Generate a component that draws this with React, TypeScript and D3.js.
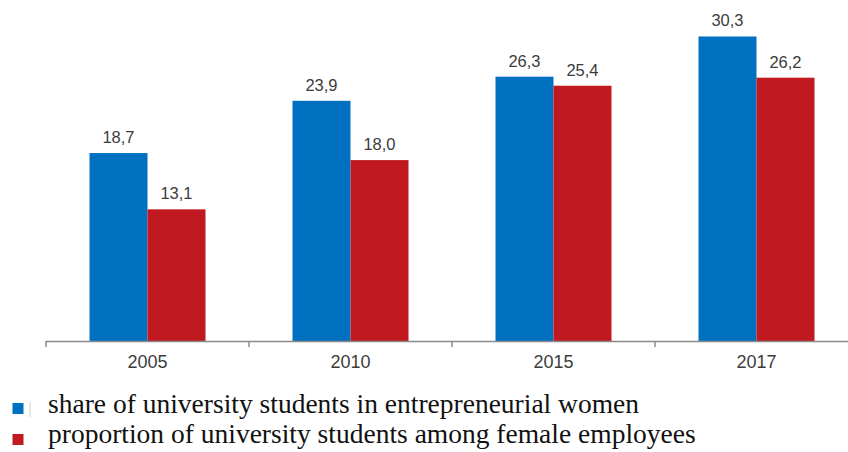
import React from "react";
import * as d3 from "d3";

const categories = ["2005", "2010", "2015", "2017"];
const seriesNames = [
  "share of university students in entrepreneurial women",
  "proportion of university students among female employees",
];
const entrepreneurial = [18.7, 23.9, 26.3, 30.3];
const employees = [13.1, 18.0, 25.4, 26.2];
const labels = [
  ["18,7", "23,9", "26,3", "30,3"],
  ["13,1", "18,0", "25,4", "26,2"],
];
const colors = ["#0070C0", "#C0191F"];

export default function App() {
  const W = 848, H = 452;
  const x = d3.scaleBand<string>().domain(categories).range([46, 858]).paddingInner(0).paddingOuter(0);
  const y = d3.scaleLinear().domain([0, 30]).range([341, 39.5]);
  const barW = 58;
  const series = [entrepreneurial, employees];
  const ticks = [...categories.map((c) => x(c)!), 858];
  const sans = "'Liberation Sans', Arial, sans-serif";
  const serif = "'Liberation Serif', 'Times New Roman', Times, serif";
  return (
    <div style={{ position: "absolute", left: 0, top: 0, width: W, height: H }}>
      <svg width={W} height={H} style={{ display: "block", background: "#fff" }}>
        {series.map((vals, si) =>
          vals.map((v, i) => {
            const cx = x(categories[i])! + x.bandwidth() / 2;
            const bx = si === 0 ? cx - barW : cx;
            return (
              <g key={`${si}-${i}`}>
                <rect x={bx} y={y(v)} width={barW} height={y(0) - y(v)} fill={colors[si]} />
                <text x={bx + barW / 2} y={y(v) - 10} textAnchor="middle" style={{ fontFamily: sans, fontSize: 16.5 }} fill="#3c3c3c">
                  {labels[si][i]}
                </text>
              </g>
            );
          })
        )}
        <line x1={46} x2={848} y1={341.5} y2={341.5} stroke="#8a8a8a" strokeWidth={1.5} />
        {ticks.map((t, i) => (
          <line key={i} x1={t} x2={t} y1={341} y2={347} stroke="#8a8a8a" strokeWidth={1.5} />
        ))}
        {categories.map((c) => (
          <text key={c} x={x(c)! + x.bandwidth() / 2} y={368} textAnchor="middle" style={{ fontFamily: sans, fontSize: 18 }} fill="#3c3c3c">
            {c}
          </text>
        ))}
        {seriesNames.map((n, i) => (
          <g key={n}>
            <rect x={12.5} y={403 + i * 31} width={11} height={11} fill={colors[i]} />
            <text x={48} y={413 + i * 30} style={{ fontFamily: serif, fontSize: 27.5 }} fill="#111">
              {n}
            </text>
          </g>
        ))}
        <line x1={30} x2={30} y1={402} y2={417} stroke="#d9cfc8" strokeWidth={1} />
      </svg>
    </div>
  );
}
